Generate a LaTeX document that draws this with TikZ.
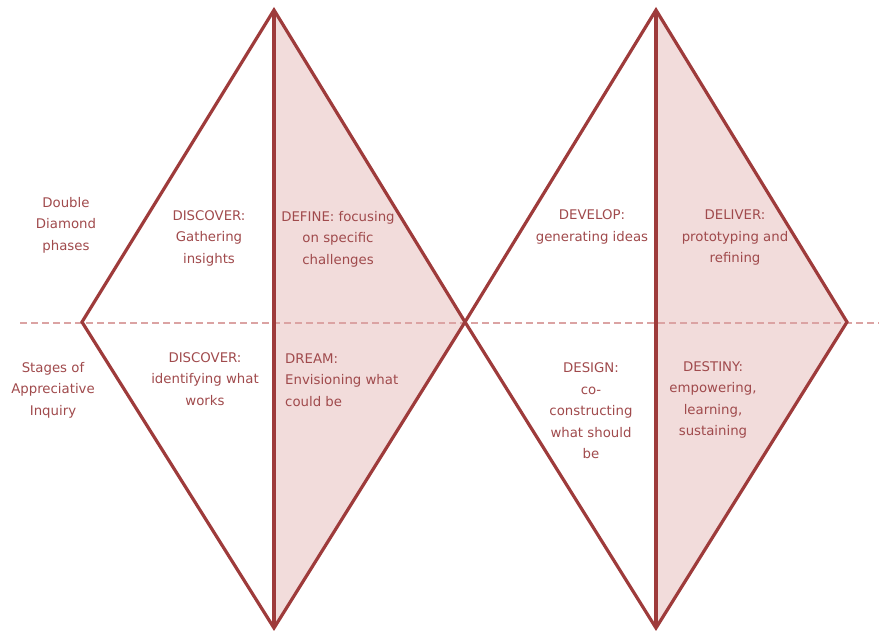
\documentclass[tikz,border=0pt]{standalone}
\usepackage{fontspec}
\setmainfont{DejaVu Sans}
\definecolor{edge}{HTML}{9E3B3B}
\definecolor{ink}{HTML}{A04A4C}
\definecolor{shade}{HTML}{F2DCDB}
\definecolor{guide}{HTML}{DBA3A3}
\begin{document}
\begin{tikzpicture}[x=1pt,y=-1pt,
  outline/.style={draw=edge,line width=3.2pt,line join=miter},
  half/.style={fill=shade},
  divider/.style={draw=guide,line width=1.6pt,dash pattern=on 7pt off 4pt},
  lbl/.style={text=ink,font=\fontsize{13.3}{21.5}\selectfont,align=center,inner sep=0pt}]
\useasboundingbox (0,0) rectangle (879,630);
% diamond vertices
\coordinate (aL) at (82,322);
\coordinate (aT) at (274,10);
\coordinate (aB) at (274,628);
\coordinate (m)  at (465,322);
\coordinate (bT) at (656,10);
\coordinate (bB) at (656,628);
\coordinate (bR) at (847,322);
\coordinate (gL) at (20,323);
\coordinate (gR) at (879,323);
% shaded right halves
\fill[half] (aT) -- (m) -- (aB) -- cycle;
\fill[half] (bT) -- (bR) -- (bB) -- cycle;
% dashed divider between the two rows
\draw[divider] (gL) -- (gR);
% diamonds and their central axes
\draw[outline] (aL) -- (aT) -- (m) -- (aB) -- cycle;
\draw[outline] (m) -- (bT) -- (bR) -- (bB) -- cycle;
\draw[outline] (aT) -- (aB);
\draw[outline] (bT) -- (bB);
% row labels
\node[lbl] (rowA) at (66,225) {Double\\Diamond\\phases};
\node[lbl] (rowB) at (53,390) {Stages of\\Appreciative\\Inquiry};
% double diamond phases
\node[lbl] (p1) at (209,238) {DISCOVER:\\Gathering\\insights};
\node[lbl] (p2) at (338,239) {DEFINE: focusing\\on specific\\challenges};
\node[lbl] (p3) at (592,227) {DEVELOP:\\generating ideas};
\node[lbl] (p4) at (735,238) {DELIVER:\\prototyping and\\refining};
% appreciative inquiry stages
\node[lbl] (s1) at (205,379) {DISCOVER:\\identifying what\\works};
\node[lbl,align=left,anchor=west] (s2) at (285,380) {DREAM:\\Envisioning what\\could be};
\node[lbl] (s3) at (591,411) {DESIGN:\\co-\\constructing\\what should\\be};
\node[lbl] (s4) at (713,400) {DESTINY:\\empowering,\\learning,\\sustaining};
\end{tikzpicture}
\end{document}
